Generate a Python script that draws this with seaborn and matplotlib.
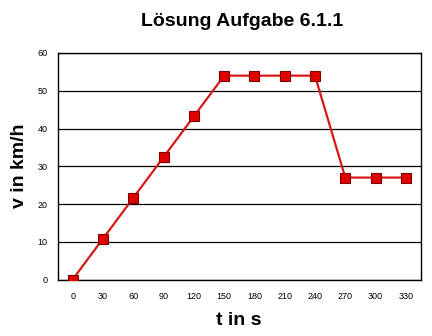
import matplotlib
matplotlib.use("Agg")
import matplotlib.pyplot as plt
import seaborn as sns
import pandas as pd

t_labels = ["0", "30", "60", "90", "120", "150", "180", "210", "240", "270", "300", "330"]
v_values = [0, 10.8, 21.6, 32.4, 43.2, 54, 54, 54, 54, 27, 27, 27]
y_ticks = [0, 10, 20, 30, 40, 50, 60]

sns.set_style("white")
plt.rcParams['font.family'] = ['Liberation Sans', 'DejaVu Sans']
plt.rcParams['text.color'] = 'black'
plt.rcParams['axes.labelcolor'] = 'black'
plt.rcParams['xtick.color'] = 'black'
plt.rcParams['ytick.color'] = 'black'

df = pd.DataFrame({"pos": range(len(t_labels)), "v": v_values})

fig = plt.figure(figsize=(4.32, 3.36), dpi=100)
ax = fig.add_axes([57.5/432, 1 - 279.5/336, (421 - 57.5)/432, (279.5 - 53)/336])

sns.lineplot(data=df, x="pos", y="v", ax=ax, color="#d81818", linewidth=1.6,
             marker="s", markersize=6.5, markerfacecolor="#e00000",
             markeredgecolor="#800000", markeredgewidth=0.8, zorder=3)

ax.set_xlim(-0.5, len(t_labels) - 0.5)
ax.set_ylim(0, 60)
ax.set_yticks(y_ticks)
ax.set_yticklabels([str(v) for v in y_ticks], fontsize=6.5)
ax.set_xticks(range(len(t_labels)))
ax.set_xticklabels(t_labels, fontsize=6.5)
ax.tick_params(axis='x', length=0, pad=9)
ax.tick_params(axis='y', length=0, pad=7)
ax.yaxis.grid(True, color="black", linewidth=0.9)
ax.set_axisbelow(True)
for s in ax.spines.values():
    s.set_visible(True)
    s.set_color("black")
    s.set_linewidth(1.0)

ax.set_xlabel("t in s", fontsize=14, fontweight="bold", labelpad=8)
ax.set_ylabel("v in km/h", fontsize=14, fontweight="bold", labelpad=7)
fig.text(242/432, 1 - 22/336, "Lösung Aufgabe 6.1.1", fontsize=14, fontweight="bold",
         ha="center", va="center")

fig.savefig("out.png", dpi=100)
